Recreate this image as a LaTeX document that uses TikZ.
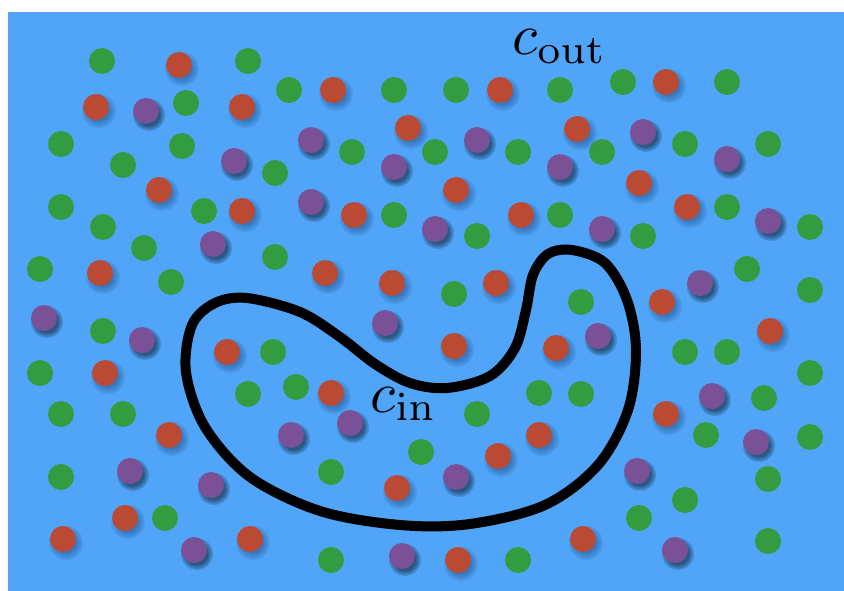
\documentclass[tikz,border=0pt]{standalone}
\begin{document}
\begin{tikzpicture}[x=1pt,y=-1pt]
\definecolor{bg}{RGB}{80,165,248}
\definecolor{dgreen}{RGB}{52,156,64}
\definecolor{dred}{RGB}{186,74,52}
\definecolor{dpurple}{RGB}{122,80,150}
\definecolor{shad}{RGB}{10,30,70}
\tikzset{label/.style={anchor=base west,inner sep=0pt,scale=5.8}}
\useasboundingbox (0,0) rectangle (844,591);
\fill[white] (0,0) rectangle (844,591);
\fill[bg] (8,12) rectangle (844,591);
% green dots
\foreach \x/\y in {102/61,248/61,289/90,186/103,61/144,182/146,123/165,275/173,61/207,204/211,103/227,144/248,275/257,40/269,171/282,
394/90,456/90,560/90,352/152,435/152,518/152,394/215,477/236,560/215,454/294,
623/82,727/82,685/144,768/144,602/152,727/207,810/227,643/236,747/269,810/290,581/302,
103/331,40/373,61/414,123/414,61/477,165/518,273/352,248/394,296/387,
477/414,539/393,581/394,421/452,331/472,331/560,518/560,
685/352,727/352,810/373,764/398,706/435,810/437,768/479,685/500,639/518,768/541}
{\fill[dgreen] (\x,\y) circle (13);}
% red dots
\foreach \x/\y in {179/65,96/107,242/107,159/190,242/211,100/273,
333/90,500/90,408/128,577/129,456/190,354/215,521/215,325/273,392/283,496/283,
666/82,639/183,687/207,662/302,
105/373,169/435,125/518,63/539,250/539,227/352,
454/346,556/348,331/393,539/435,498/456,397/488,458/560,
770/331,666/414,583/539}
{\foreach \r in {17,15,13,11}{\fill[shad,opacity=0.09] (\x+3,\y+4) circle (\r);}
 \fill[dred] (\x,\y) circle (13);}
% purple dots
\foreach \x/\y in {146/111,234/161,213/244,
311/140,394/167,477/140,560/167,311/202,435/229,
643/132,727/159,768/221,602/229,700/283,
44/318,142/340,130/471,211/485,194/550,291/435,
385/323,350/423,456/477,402/556,
598/336,712/396,756/442,637/471,675/550}
{\foreach \r in {16,14.5,13,11.5}{\fill[black,opacity=0.14] (\x+3,\y+4) circle (\r);}
 \fill[dpurple] (\x,\y) circle (13);}
% closed curve
\draw[line width=10pt] plot[smooth cycle, tension=0.55] coordinates {
(247,298) (300,312) (340,337) (375,364) (410,383) (447,388) (490,376) (515,348) (526,310) (533,275) (548,254) (572,250) (605,263) (627,300) (636,350) (628,410) (598,465) (545,505) (470,524) (400,525) (320,511) (250,477) (205,427) (186,372) (192,325) (215,303)};
\node[label] (cout) at (511,55) {$c_{\mathrm{out}}$};
\node[label] (cin) at (369,412) {$c_{\mathrm{in}}$};
\end{tikzpicture}
\end{document}
